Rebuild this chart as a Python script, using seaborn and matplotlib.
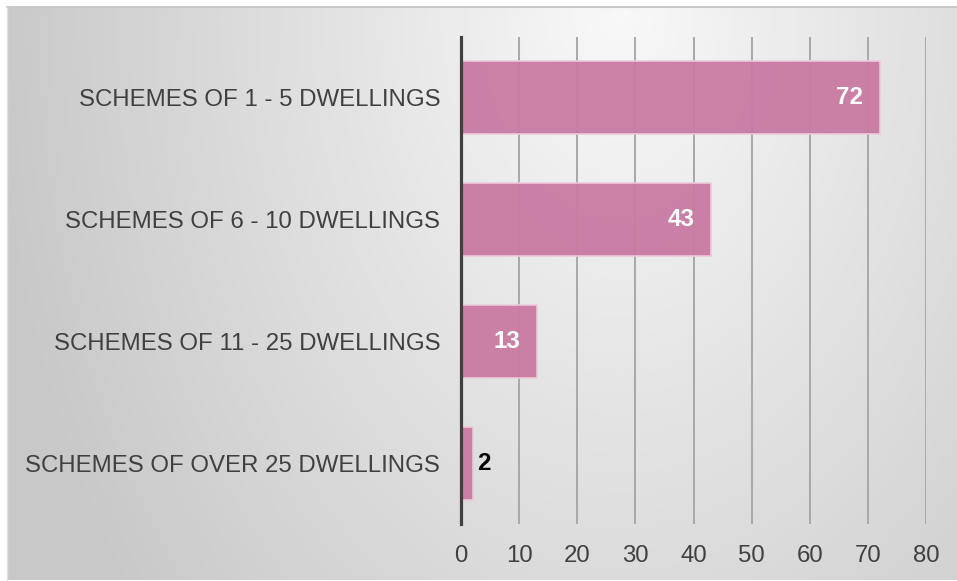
import numpy as np
import pandas as pd
import matplotlib
matplotlib.use("Agg")
import matplotlib.pyplot as plt
import seaborn as sns

categories = ["SCHEMES OF 1 - 5 DWELLINGS", "SCHEMES OF 6 - 10 DWELLINGS",
              "SCHEMES OF 11 - 25 DWELLINGS", "SCHEMES OF OVER 25 DWELLINGS"]
values = [72, 43, 13, 2]
x_ticks = [0, 10, 20, 30, 40, 50, 60, 70, 80]

sns.set_theme(style="white")
plt.rcParams['font.family'] = ['Liberation Sans', 'DejaVu Sans']

W, H, DPI = 957, 581, 100
fig = plt.figure(figsize=(W / DPI, H / DPI), dpi=DPI, facecolor="white")

# background radial gradient panel
bx0, by0, bx1, by1 = 7, 1, 957, 574  # pixel extents (y from bottom)
bg = fig.add_axes([bx0 / W, by0 / H, (bx1 - bx0) / W, (by1 - by0) / H], zorder=0)
gw, gh = 400, 250
xx, yy = np.meshgrid(np.linspace(bx0, bx1, gw), np.linspace(H - by1, H - by0, gh))
cx, cy = 620, 10
r = np.sqrt(((xx - cx) / 600) ** 2 + ((yy - cy) / 900) ** 2)
v = np.clip(0.975 - 0.18 * r, 0.785, 1)
bg.imshow(np.dstack([v, v, v]), extent=[0, 1, 0, 1], aspect="auto", origin="upper")
bg.set_xlim(0, 1); bg.set_ylim(0, 1)
bg.axis("off")
bg.plot([0, 1], [1, 1], color="#c8c8c8", lw=1.5, transform=bg.transAxes, clip_on=False)
bg.plot([0, 0], [0, 1], color="#e0e0e0", lw=1.0, transform=bg.transAxes, clip_on=False)

ax = fig.add_axes([461 / W, 1 - 524 / H, (926 - 461) / W, (524 - 37) / H], zorder=1)
ax.set_facecolor("none")

df = pd.DataFrame({"category": categories, "value": values})
sns.barplot(data=df, y="category", x="value", orient="h", color="#c97aa2", saturation=1,
            width=0.6, alpha=0.95, edgecolor="#eecadb", linewidth=1.2, ax=ax, zorder=3)

ax.set_xlim(0, 80)
ax.set_xticks(x_ticks)
ax.set_xticklabels([str(t) for t in x_ticks])
ax.set_ylim(3.5, -0.5)
ax.set_xlabel("")
ax.set_ylabel("")
ax.grid(axis="x", color="#a8a8a8", lw=1.4, zorder=0)
ax.grid(axis="y", visible=False)
for s in ["top", "right", "bottom"]:
    ax.spines[s].set_visible(False)
ax.spines["left"].set_color("#404040")
ax.spines["left"].set_linewidth(2.3)
ax.spines["left"].set_zorder(5)
ax.tick_params(axis="y", length=0, pad=15, labelsize=17.3, labelcolor="#404040")
ax.tick_params(axis="x", length=0, pad=15, labelsize=17.3, labelcolor="#404040")

for p in ax.patches:
    w = p.get_width()
    yc = p.get_y() + p.get_height() / 2
    if w >= 10:
        ax.annotate(f"{int(round(w))}", (w, yc), xytext=(-12, 0), textcoords="offset points",
                    ha="right", va="center", color="white", fontsize=17.5, fontweight="bold", zorder=6)
    else:
        ax.annotate(f"{int(round(w))}", (w, yc), xytext=(3, 0), textcoords="offset points",
                    ha="left", va="center", color="black", fontsize=17.5, fontweight="bold", zorder=6)

fig.savefig("out.png", dpi=DPI, facecolor="white")
